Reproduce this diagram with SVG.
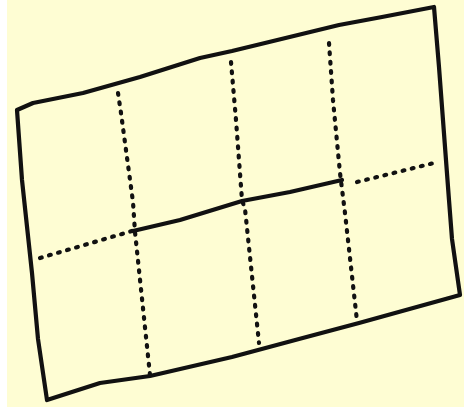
<svg xmlns="http://www.w3.org/2000/svg" width="464" height="412" viewBox="0 0 464 412">
<style>
.solid{fill:none;stroke:#111;stroke-width:4.2;stroke-linejoin:round;stroke-linecap:round}
.dot{fill:none;stroke:#111;stroke-width:4.2;stroke-linecap:round;stroke-dasharray:1.8 7.6}
</style>
<rect x="0" y="0" width="464" height="412" fill="#ffffff"/>
<rect x="7" y="0" width="457" height="407" fill="#fefdd3"/>
<g id="outline">
<path class="solid" d="M17,110 L33,103 L83,93 L140,77 L200,58 L232,51 L265,43 L339,25 L382,17 L434,7 L439,67 L449,200 L452,239 L460,295 L359,323 L299,339 L232,357 L150,376 L100,383 L47,400 L38,339 L32,273 L22,180 Z"/>
<path class="solid" d="M133,231 L180,220 L242,201 L290,192 L342,180"/>
</g>
<g id="dotted">
<path class="dot" d="M118,93 L121,113 L133,202 L135,232 L150,375"/>
<path class="dot" d="M231,62 L236,120 L242,200 L245,209 L259,343"/>
<path class="dot" d="M329,43 L333,100 L340,173 L345,213 L357,321"/>
<path class="dot" d="M40,258 L132,231"/>
<path class="dot" d="M357,182 L434,163"/>
</g>
</svg>
